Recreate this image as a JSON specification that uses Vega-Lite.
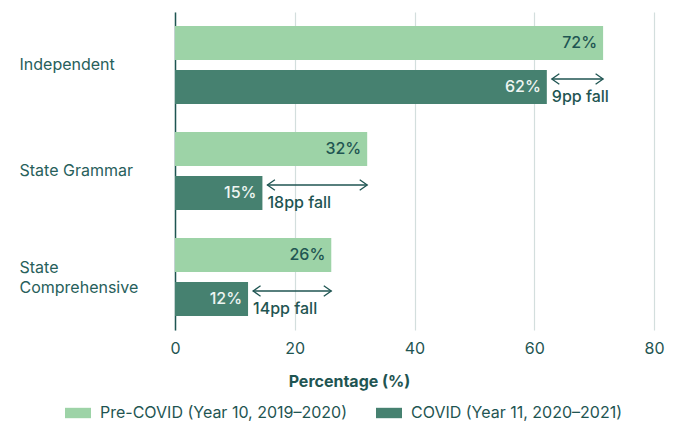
{
  "$schema": "https://vega.github.io/schema/vega-lite/v6.json",
  "autosize": {"type": "none"},
  "padding": {"left": 175, "top": 12, "right": 24, "bottom": 93},
  "width": 479,
  "height": 318,
  "background": "white",
  "config": {
    "font": "Inter",
    "view": {"stroke": null},
    "text": {"font": "Inter"}
  },
  "datasets": {
    "bars": [
      {"school": "Independent", "period": "Pre-COVID (Year 10, 2019–2020)", "value": 71.5, "label": "72%"},
      {"school": "Independent", "period": "COVID (Year 11, 2020–2021)", "value": 62.1, "label": "62%"},
      {"school": "State Grammar", "period": "Pre-COVID (Year 10, 2019–2020)", "value": 32.1, "label": "32%"},
      {"school": "State Grammar", "period": "COVID (Year 11, 2020–2021)", "value": 14.6, "label": "15%"},
      {"school": "State Comprehensive", "period": "Pre-COVID (Year 10, 2019–2020)", "value": 26.1, "label": "26%"},
      {"school": "State Comprehensive", "period": "COVID (Year 11, 2020–2021)", "value": 12.2, "label": "12%"}
    ],
    "arrows": [
      {"school": "Independent", "covid": 62.1, "pre": 71.5, "fall": "9pp fall"},
      {"school": "State Grammar", "covid": 14.6, "pre": 32.1, "fall": "18pp fall"},
      {"school": "State Comprehensive", "covid": 12.2, "pre": 26.1, "fall": "14pp fall"}
    ]
  },
  "encoding": {
    "y": {
      "field": "school",
      "type": "nominal",
      "sort": ["Independent", "State Grammar", "State Comprehensive"],
      "scale": {"paddingInner": 0.264, "paddingOuter": 0.132},
      "axis": {
        "title": null,
        "ticks": false,
        "labelPadding": 156,
        "labelAlign": "left",
        "labelFontSize": 16,
        "labelColor": "#27605b",
        "labelLineHeight": 20,
        "labelOffset": {"condition": {"test": "datum.value == 'State Comprehensive'", "value": -9}, "value": 0},
        "labelExpr": "datum.label == 'State Comprehensive' ? ['State', 'Comprehensive'] : datum.label",
        "domainColor": "#1f5552",
        "domainWidth": 1.5,
        "grid": false
      }
    }
  },
  "layer": [
    {
      "data": {"name": "bars"},
      "mark": {"type": "bar"},
      "encoding": {
        "yOffset": {
          "field": "period",
          "type": "nominal",
          "sort": ["Pre-COVID (Year 10, 2019–2020)", "COVID (Year 11, 2020–2021)"],
          "scale": {"paddingInner": 0.227, "paddingOuter": 0}
        },
        "x": {
          "field": "value",
          "type": "quantitative",
          "scale": {"domain": [0, 80]},
          "axis": {
            "title": "Percentage (%)",
            "titleFontSize": 16,
            "titleFontWeight": "bold",
            "titleColor": "#1f5552",
            "titleX": 174,
            "titleY": 51,
            "titleBaseline": "middle",
            "values": [0, 20, 40, 60, 80],
            "labelFontSize": 16,
            "labelColor": "#1f5552",
            "labelPadding": 10,
            "labelFlush": false,
            "domain": false,
            "ticks": false,
            "grid": true,
            "gridColor": "#d3dedd",
            "gridWidth": 1.2
          }
        },
        "color": {
          "field": "period",
          "type": "nominal",
          "sort": ["Pre-COVID (Year 10, 2019–2020)", "COVID (Year 11, 2020–2021)"],
          "scale": {"range": ["#9dd3a7", "#468170"]},
          "legend": {
            "title": null,
            "orient": "none",
            "direction": "horizontal",
            "legendX": -110,
            "legendY": 388,
            "symbolType": "M-1,-0.4L1,-0.4L1,0.4L-1,0.4Z",
            "symbolSize": 676,
            "symbolStrokeWidth": 0,
            "labelFontSize": 16,
            "labelColor": "#1f5552",
            "labelOffset": 9,
            "labelLimit": 0,
            "columnPadding": 28
          }
        }
      }
    },
    {
      "data": {"name": "bars"},
      "mark": {"type": "text", "align": "right", "baseline": "middle", "dx": -6, "fontSize": 16, "fontWeight": 500},
      "encoding": {
        "yOffset": {
          "field": "period",
          "type": "nominal",
          "sort": ["Pre-COVID (Year 10, 2019–2020)", "COVID (Year 11, 2020–2021)"]
        },
        "x": {"field": "value", "type": "quantitative"},
        "text": {"field": "label"},
        "color": {
          "condition": {"test": "datum.period == 'COVID (Year 11, 2020–2021)'", "value": "#eef5f2"},
          "value": "#1f5552"
        }
      }
    },
    {
      "data": {"name": "arrows"},
      "mark": {"type": "rule", "color": "#1f5552", "strokeWidth": 1.3, "xOffset": 5, "yOffset": 14},
      "encoding": {
        "x": {"field": "covid", "type": "quantitative"},
        "x2": {"field": "pre"}
      }
    },
    {
      "data": {"name": "arrows"},
      "mark": {"type": "point", "shape": "M1,-0.7L0,0L1,0.7", "filled": false, "size": 225, "color": "#1f5552", "strokeWidth": 1.3, "opacity": 1, "xOffset": 5, "yOffset": 14},
      "encoding": {
        "x": {"field": "covid", "type": "quantitative"}
      }
    },
    {
      "data": {"name": "arrows"},
      "mark": {"type": "point", "shape": "M-1,-0.7L0,0L-1,0.7", "filled": false, "size": 225, "color": "#1f5552", "strokeWidth": 1.3, "opacity": 1, "yOffset": 14},
      "encoding": {
        "x": {"field": "pre", "type": "quantitative"}
      }
    },
    {
      "data": {"name": "arrows"},
      "mark": {"type": "text", "align": "left", "baseline": "middle", "dx": 5, "dy": 32, "fontSize": 16, "fontWeight": 500, "color": "#1f5552"},
      "encoding": {
        "x": {"field": "covid", "type": "quantitative"},
        "text": {"field": "fall"}
      }
    }
  ]
}
